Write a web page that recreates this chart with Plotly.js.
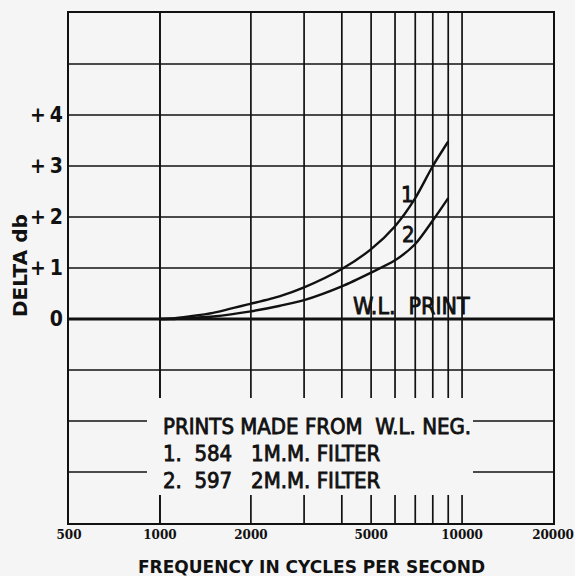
<!DOCTYPE html>
<html>
<head>
<meta charset="utf-8">
<script src="https://cdn.plot.ly/plotly-3.0.1.min.js"></script>
<style>
html,body{margin:0;padding:0;background:#f5f5f5;}
</style>
</head>
<body>
<div id="chart" style="width:575px;height:576px;"></div>
<script>
// ---- data ----
var freq   = [1000, 1100, 1250, 1500, 2000, 2500, 3000, 4000, 5000, 6000, 7000, 8000, 9000];
var curve1 = [0, 0.01, 0.05, 0.12, 0.30, 0.45, 0.62, 0.98, 1.37, 1.82, 2.37, 3.00, 3.48];
var curve2 = [0, 0.00, 0.02, 0.05, 0.15, 0.26, 0.37, 0.64, 0.91, 1.15, 1.47, 1.93, 2.37];
var refFreq = [500, 20000];
var refLevel = [0, 0];

var xTickVals = [500, 1000, 2000, 5000, 10000, 20000];
var xTickText = ["500", "1000", "2000", "5000", "10000", "20000"];
var yTickVals = [0, 1, 2, 3, 4];
var yTickText = ["0", "+\u20091", "+\u20092", "+\u20093", "+\u20094"];
var xGrid = [1000, 2000, 3000, 4000, 5000, 6000, 7000, 8000, 9000, 10000];
var yGrid = [-3, -2, -1, 1, 2, 3, 4, 5];
var xRange = [500, 20000];
var yRange = [-4, 6];

var narrow = "DejaVu Sans Condensed, Liberation Sans Narrow, sans-serif";
var bg = "#f5f5f5";
var ink = "#111";

var shapes = [];
xGrid.forEach(function (v) {
  shapes.push({type: "line", xref: "x", yref: "paper", x0: v, x1: v, y0: 0, y1: 1,
               line: {color: ink, width: 1.7}, layer: "below"});
});
yGrid.forEach(function (v) {
  shapes.push({type: "line", xref: "paper", yref: "y", x0: 0, x1: 1, y0: v, y1: v,
               line: {color: ink, width: 1.7}, layer: "below"});
});
// blank panel behind the legend text
shapes.push({type: "rect", xref: "x", yref: "y", x0: 906, x1: 10870, y0: -3.45, y1: -1.55,
             fillcolor: bg, line: {width: 0}, layer: "below"});
// the 1000 line runs through the panel
shapes.push({type: "line", xref: "x", yref: "paper", x0: xGrid[0], x1: xGrid[0], y0: 0, y1: 1,
             line: {color: ink, width: 1.7}, layer: "below"});

var traces = [
  {x: refFreq, y: refLevel, mode: "lines", line: {color: ink, width: 3}, hoverinfo: "skip"},
  {x: freq, y: curve1, mode: "lines", line: {color: ink, width: 2.4, shape: "spline", smoothing: 0.7}},
  {x: freq, y: curve2, mode: "lines", line: {color: ink, width: 2.4, shape: "spline", smoothing: 0.7}}
];

var nb = "\u00a0";
var boxFont = {family: narrow, size: 22, color: ink};
var annotations = [
  {text: "W.L." + nb + nb + "PRINT", x: Math.log10(6777), y: 0.26, xref: "x", yref: "y",
   showarrow: false, font: {family: narrow, size: 23, color: ink}},
  {text: "1", x: Math.log10(6580), y: 2.44, xref: "x", yref: "y", showarrow: false,
   font: {family: narrow, size: 22, color: ink}},
  {text: "2", x: Math.log10(6630), y: 1.65, xref: "x", yref: "y", showarrow: false,
   font: {family: narrow, size: 22, color: ink}},
  {text: "PRINTS MADE FROM" + nb + nb + "W.L." + nb + "NEG.", x: 3, y: -2.11, xref: "x", yref: "y",
   xanchor: "left", xshift: 1, showarrow: false, font: boxFont},
  {text: "1." + nb + nb + "584" + nb + nb + nb + "1M.M." + nb + "FILTER", x: 3, y: -2.64, xref: "x", yref: "y",
   xanchor: "left", xshift: 1, showarrow: false, font: boxFont},
  {text: "2." + nb + nb + "597" + nb + nb + nb + "2M.M." + nb + "FILTER", x: 3, y: -3.17, xref: "x", yref: "y",
   xanchor: "left", xshift: 1, showarrow: false, font: boxFont},
  {text: "DELTA db", x: -0.101, y: 0.504, xref: "paper", yref: "paper", textangle: -90,
   xanchor: "center", yanchor: "middle",
   showarrow: false, font: {family: "DejaVu Sans", size: 20, weight: "bold", color: ink}},
  {text: "FREQUENCY IN CYCLES PER SECOND", x: 0.5, y: -0.086, xref: "paper", yref: "paper",
   xanchor: "center", yanchor: "middle", borderpad: 0,
   showarrow: false, font: {family: "DejaVu Sans", size: 17, weight: "bold", color: ink}}
];

var layout = {
  width: 575, height: 576,
  margin: {l: 69, r: 22, t: 13, b: 53},
  paper_bgcolor: bg, plot_bgcolor: bg,
  showlegend: false,
  xaxis: {type: "log", range: [Math.log10(xRange[0]), Math.log10(xRange[1])],
          tickvals: xTickVals, ticktext: xTickText, ticks: "",
          showgrid: false, zeroline: false, showline: true, mirror: true,
          linecolor: ink, linewidth: 2,
          tickfont: {family: "DejaVu Serif", size: 12, weight: "bold", color: ink}},
  yaxis: {range: yRange, tickvals: yTickVals, ticktext: yTickText, ticks: "",
          showgrid: false, zeroline: false, showline: true, mirror: true,
          linecolor: ink, linewidth: 2,
          tickfont: {family: narrow, size: 21, weight: "bold", color: ink}},
  shapes: shapes,
  annotations: annotations
};

Plotly.newPlot("chart", traces, layout, {staticPlot: true, displayModeBar: false}).then(function (gd) {
  // thicken the strokes of the plain chart lettering, as in the printed original
  var nodes = gd.querySelectorAll("text.annotation-text");
  for (var i = 0; i < nodes.length && i < 6; i++) {
    nodes[i].style.stroke = ink;
    nodes[i].style.strokeWidth = "0.8px";
  }
});
</script>
</body>
</html>
